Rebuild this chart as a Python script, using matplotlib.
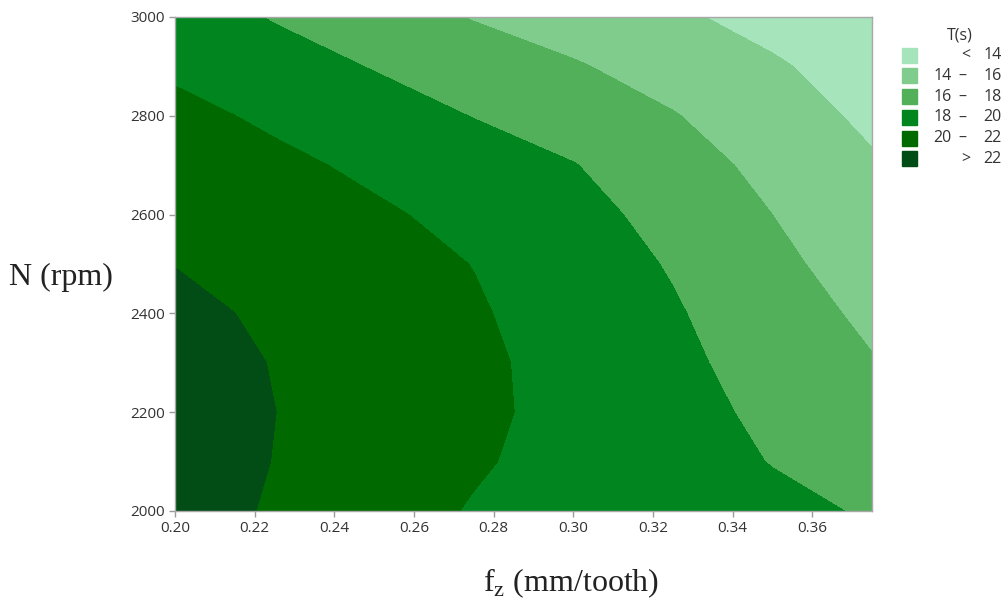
import numpy as np
import matplotlib
matplotlib.use('Agg')
import matplotlib.pyplot as plt
from matplotlib.patches import Rectangle

# feed per tooth (mm/tooth) and spindle speed (rpm) grid
fz = [0.200, 0.225, 0.250, 0.275, 0.300, 0.325, 0.350, 0.375]
N = [2000, 2100, 2200, 2300, 2400, 2500, 2600, 2700, 2800, 2900, 3000]

# machining time T(s), one row per N value (bottom to top)
T = [
    [22.84, 21.80, 20.76, 19.87, 19.37, 18.88, 18.38, 17.85],
    [22.85, 21.96, 21.07, 20.18, 19.41, 18.68, 17.94, 17.23],
    [22.84, 22.01, 21.18, 20.35, 19.48, 18.57, 17.64, 16.67],
    [22.73, 21.93, 21.14, 20.34, 19.41, 18.40, 17.28, 16.10],
    [22.45, 21.70, 20.94, 20.18, 19.21, 18.17, 16.91, 15.60],
    [21.96, 21.30, 20.64, 19.96, 18.93, 17.85, 16.43, 15.12],
    [21.42, 20.84, 20.26, 19.49, 18.56, 17.43, 15.99, 14.63],
    [21.19, 20.41, 19.63, 18.84, 18.06, 16.80, 15.49, 14.20],
    [20.51, 19.66, 18.80, 17.94, 17.02, 16.09, 14.87, 13.62],
    [19.65, 18.76, 17.90, 17.03, 16.16, 15.19, 14.20, 13.20],
    [18.90, 17.87, 16.87, 15.89, 15.07, 14.26, 13.43, 12.60],
]

breaks = [14, 16, 18, 20, 22]
colors = ['#a6e4bc', '#80cc8c', '#53b05a', '#00851f', '#006a00', '#024c16']

W, H = 1004, 604
fig = plt.figure(figsize=(W / 100, H / 100), dpi=100)
ax = fig.add_axes([175 / W, 1 - 511 / H, (872 - 175) / W, (511 - 17) / H])

levels = [0] + breaks + [40]
cs = ax.contourf(fz, N, np.array(T), levels=levels, colors=colors)
# hide the hairline seams between filled bands
cs.set_edgecolor('face')
cs.set_linewidth(0.6)

ax.set_xlim(0.20, 0.375)
ax.set_ylim(2000, 3000)
ax.set_xticks(np.arange(0.20, 0.361, 0.02))
ax.set_xticklabels([f'{v:.2f}' for v in np.arange(0.20, 0.361, 0.02)])
ax.set_yticks(range(2000, 3001, 200))
ax.tick_params(colors='#9a9a9a', labelcolor='#333333', length=4, width=1,
               labelsize=11, direction='out')
for lbl in ax.get_xticklabels() + ax.get_yticklabels():
    lbl.set_family('Open Sans')
for s in ax.spines.values():
    s.set_color('#a8a8a8')
    s.set_linewidth(1)

# axis titles in a serif face, N label horizontal like the original
fig.text(61 / W, 1 - 277 / H, 'N (rpm)', fontsize=23, family='Liberation Serif',
         ha='center', va='center', color='#222222')
fig.text(571 / W, 1 - 583 / H, r'f$_\mathregular{z}$ (mm/tooth)', fontsize=23,
         family='Liberation Serif', ha='center', va='center', color='#222222')

# legend drawn by hand
lf = 'Open Sans'
fs = 11.5
fig.text(960 / W, 1 - 35 / H, 'T(s)', fontsize=fs, family=lf, ha='center',
         va='center', color='#333333')
labels = [('', '<', str(breaks[0]))]
for lo, hi in zip(breaks[:-1], breaks[1:]):
    labels.append((str(lo), '–', str(hi)))
labels.append(('', '>', str(breaks[-1])))
for i, (c, (a, mid, b)) in enumerate(zip(colors, labels)):
    yc = 55 + i * 20.8
    fig.patches.append(Rectangle((902 / W, 1 - (yc + 7.5) / H), 15 / W, 15 / H,
                                 transform=fig.transFigure, color=c))
    yy = 1 - yc / H
    if a:
        fig.text(952 / W, yy, a, fontsize=fs, family=lf, ha='right', va='center', color='#333333')
    fig.text((962 if a else 966) / W, yy, mid, fontsize=fs, family=lf, ha='center',
             va='center', color='#333333')
    fig.text(1002 / W, yy, b, fontsize=fs, family=lf, ha='right', va='center', color='#333333')

fig.savefig('out.png', dpi=100)
